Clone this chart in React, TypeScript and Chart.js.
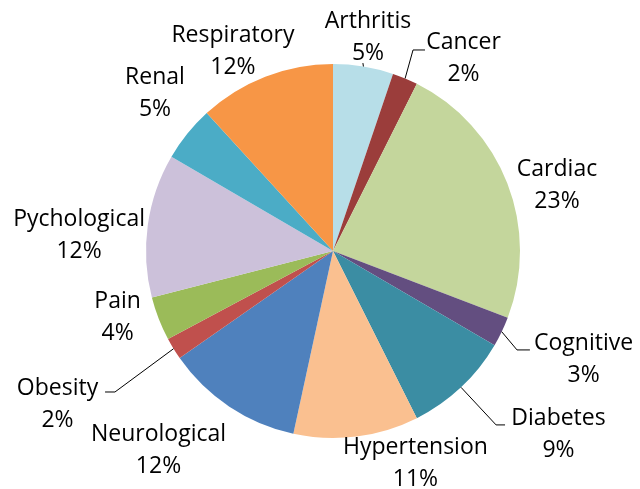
import React, { useEffect, useRef } from "react";
import { Chart, registerables } from "chart.js";

Chart.register(...registerables);

const categories = [
  "Arthritis", "Cancer", "Cardiac", "Cognitive", "Diabetes", "Hypertension",
  "Neurological", "Obesity", "Pain", "Pychological", "Renal", "Respiratory",
];
const values = [5.2, 2.2, 23.4, 2.6, 9.2, 10.8, 11.9, 1.9, 3.8, 12.4, 4.8, 11.8];
const colors = [
  "#B7DEE8", "#9B3D3B", "#C4D69C", "#634E80", "#3B8DA3", "#FAC090",
  "#4F81BD", "#C0504D", "#9BBB59", "#CCC1DA", "#4BACC6", "#F79646",
];

// label block centers, in units of pie radius relative to pie center
const labelPos: [number, number][] = [
  [0.187, -1.15], [0.698, -1.035], [1.198, -0.358], [1.34, 0.572],
  [1.206, 0.973], [0.441, 1.128], [-0.933, 1.059], [-1.473, 0.813],
  [-1.152, 0.348], [-1.358, -0.091], [-0.952, -0.85], [-0.535, -1.075],
];
// leader lines: [elbow, end] in radius units, or null
const leaders: ([number, number][] | null)[] = [
  [[0.16, -1.005], [0.16, -1.005]],
  [[0.428, -1.075], [0.492, -1.075]],
  null,
  [[0.984, 0.529], [1.053, 0.529]],
  [[0.872, 0.93], [0.92, 0.93]],
  null,
  null,
  [[-1.166, 0.754], [-1.219, 0.754]],
  null, null, null, null,
];

const FONT = '23px "Open Sans"';

const labelPlugin = {
  id: "pieLabels",
  afterDatasetsDraw(chart: any) {
    const ctx = chart.ctx;
    const meta = chart.getDatasetMeta(0);
    const total = values.reduce((a, b) => a + b, 0);
    ctx.save();
    ctx.strokeStyle = "#000";
    ctx.lineWidth = 1;
    ctx.fillStyle = "#000";
    ctx.font = FONT;
    ctx.textAlign = "center";
    ctx.textBaseline = "alphabetic";
    meta.data.forEach((arc: any, i: number) => {
      const { x, y, startAngle, endAngle, outerRadius } = arc.getProps(
        ["x", "y", "startAngle", "endAngle", "outerRadius"], true);
      const r = outerRadius;
      const mid = (startAngle + endAngle) / 2;
      const ld = leaders[i];
      if (ld) {
        ctx.beginPath();
        ctx.moveTo(x + Math.cos(mid) * r, y + Math.sin(mid) * r);
        ld.forEach((p) => ctx.lineTo(x + p[0] * r, y + p[1] * r));
        ctx.stroke();
      }
      const lx = x + labelPos[i][0] * r;
      const ly = y + labelPos[i][1] * r;
      const pct = Math.round((values[i] / total) * 100) + "%";
      ctx.fillText(categories[i], lx, ly - 8);
      ctx.fillText(pct, lx, ly + 24);
    });
    ctx.restore();
  },
};

export default function App() {
  const ref = useRef<HTMLCanvasElement>(null);
  useEffect(() => {
    document.body.style.margin = "0";
    const chart = new Chart(ref.current!, {
      type: "pie",
      data: {
        labels: categories,
        datasets: [{ data: values, backgroundColor: colors, borderWidth: 0 }],
      },
      options: {
        animation: false,
        responsive: false,
        layout: { padding: { left: 146, right: 120, top: 64, bottom: 51 } },
        plugins: { legend: { display: false }, tooltip: { enabled: false } },
      },
      plugins: [labelPlugin],
    });
    return () => chart.destroy();
  }, []);
  return (
    <div style={{ width: 640, height: 489, background: "#fff" }}>
      <canvas ref={ref} width={640} height={489} />
    </div>
  );
}
